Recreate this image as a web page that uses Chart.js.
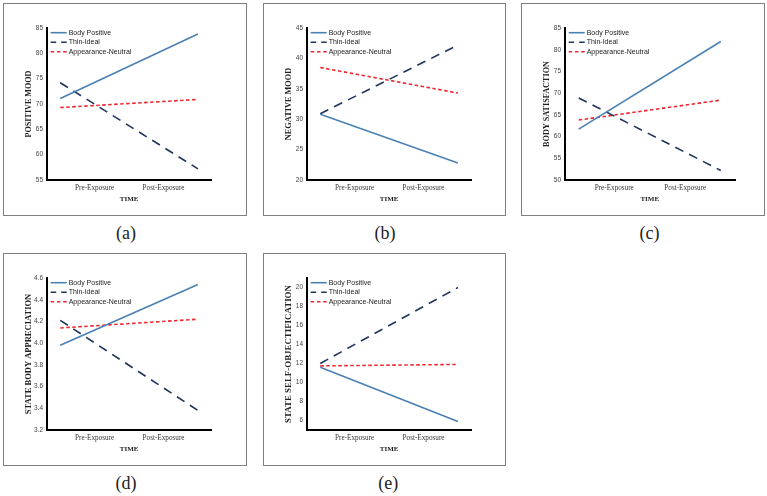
<!DOCTYPE html>
<html>
<head>
<meta charset="utf-8">
<script src="https://cdn.jsdelivr.net/npm/chart.js"></script>
<style>
  body { margin: 0; background: #fff; }
  #page { position: relative; width: 767px; height: 496px; overflow: hidden; }
  .panel { position: absolute; border: 1px solid #808080; height: 211px; }
  .panel canvas { display: block; }
  .caption { position: absolute; width: 40px; text-align: center; font-family: "Liberation Serif", "Times New Roman", serif; font-size: 18px; line-height: 20px; color: #222; }
</style>
</head>
<body>
<div id="page"></div>
<script>
const timeLabels = ['Pre-Exposure', 'Post-Exposure'];
const groupNames = ['Body Positive', 'Thin-Ideal', 'Appearance-Neutral'];

// (a) positive mood
const positiveMoodBodyPos = [71.1, 83.8];
const positiveMoodThin = [74.2, 57.2];
const positiveMoodNeutral = [69.3, 70.9];
const positiveMoodTicks = ['55', '60', '65', '70', '75', '80', '85'];

// (b) negative mood
const negativeMoodBodyPos = [30.8, 22.8];
const negativeMoodThin = [30.9, 42.2];
const negativeMoodNeutral = [38.5, 34.3];
const negativeMoodTicks = ['20', '25', '30', '35', '40', '45'];

// (c) body satisfaction
const bodySatBodyPos = [61.7, 81.9];
const bodySatThin = [68.9, 52.2];
const bodySatNeutral = [63.8, 68.4];
const bodySatTicks = ['50', '55', '60', '65', '70', '75', '80', '85'];

// (d) state body appreciation
const appreciationBodyPos = [3.98, 4.54];
const appreciationThin = [4.21, 3.38];
const appreciationNeutral = [4.14, 4.22];
const appreciationTicks = ['3.2', '3.4', '3.6', '3.8', '4.0', '4.2', '4.4', '4.6'];

// (e) state self-objectification
const objectificationBodyPos = [11.6, 5.9];
const objectificationThin = [12.0, 20.0];
const objectificationNeutral = [11.75, 11.9];
const objectificationTicks = ['6', '8', '10', '12', '14', '16', '18', '20'];
const objectificationRange = [5, 21];

const lineStyles = [
  { color: '#4a80b4', dash: [], legendDash: [] },
  { color: '#1f355c', dash: [9, 6.5], legendDash: [5.5, 5] },
  { color: '#ee2630', dash: [3.5, 2.5], legendDash: [3.5, 2.75] }
];

const serif = '"Liberation Serif", "Times New Roman", serif';
const sans = '"Liberation Sans", Arial, sans-serif';

// legend drawn inside the plot, top-left
const insideLegend = {
  id: 'insideLegend',
  afterDatasetsDraw(chart) {
    const { ctx, chartArea } = chart;
    ctx.save();
    ctx.font = '7px ' + sans;
    ctx.textBaseline = 'middle';
    chart.data.datasets.forEach((ds, i) => {
      const y = chartArea.top + 4.7 + i * 9.5;
      const x0 = chartArea.left + 4.2;
      ctx.strokeStyle = ds.borderColor;
      ctx.lineWidth = ds.borderWidth;
      ctx.setLineDash(ds.legendDash);
      ctx.beginPath();
      ctx.moveTo(x0, y);
      ctx.lineTo(x0 + 16, y);
      ctx.stroke();
      ctx.setLineDash([]);
      ctx.fillStyle = '#222';
      ctx.fillText(ds.label, x0 + 18, y);
    });
    ctx.restore();
  }
};

const panels = [
  { title: 'POSITIVE MOOD', series: [positiveMoodBodyPos, positiveMoodThin, positiveMoodNeutral], ticks: positiveMoodTicks,
    left: 3, top: 3, width: 244, padRight: 34.3, titleSize: 8.1, caption: '(a)', capX: 126, capY: 232.5 },
  { title: 'NEGATIVE MOOD', series: [negativeMoodBodyPos, negativeMoodThin, negativeMoodNeutral], ticks: negativeMoodTicks,
    left: 263, top: 3, width: 243, padRight: 33.3, titleSize: 8.3, caption: '(b)', capX: 385, capY: 232.5 },
  { title: 'BODY SATISFACTION', series: [bodySatBodyPos, bodySatThin, bodySatNeutral], ticks: bodySatTicks,
    left: 521, top: 3, width: 244, padRight: 29, titleSize: 8.2, caption: '(c)', capX: 649.5, capY: 233 },
  { title: 'STATE BODY APPRECIATION', series: [appreciationBodyPos, appreciationThin, appreciationNeutral], ticks: appreciationTicks,
    left: 3, top: 253, width: 244, padRight: 34.3, titleSize: 8.5, caption: '(d)', capX: 126, capY: 483.3 },
  { title: 'STATE SELF-OBJECTIFICATION', series: [objectificationBodyPos, objectificationThin, objectificationNeutral], ticks: objectificationTicks,
    range: objectificationRange, left: 263, top: 253, width: 243, padRight: 33.3, titleSize: 8.9, caption: '(e)', capX: 388.3, capY: 483.3 }
];

const page = document.getElementById('page');

panels.forEach(p => {
  const box = document.createElement('div');
  box.className = 'panel';
  box.style.left = p.left + 'px';
  box.style.top = p.top + 'px';
  box.style.width = (p.width - 2) + 'px';
  const canvas = document.createElement('canvas');
  canvas.width = p.width - 2;
  canvas.height = 211;
  box.appendChild(canvas);
  page.appendChild(box);

  const cap = document.createElement('div');
  cap.className = 'caption';
  cap.textContent = p.caption;
  cap.style.left = (p.capX - 20) + 'px';
  cap.style.top = (p.capY - 10) + 'px';
  page.appendChild(cap);

  const tickValues = p.ticks.map(Number);
  const range = p.range || [tickValues[0], tickValues[tickValues.length - 1]];

  new Chart(canvas, {
    type: 'line',
    data: {
      datasets: p.series.map((vals, i) => ({
        label: groupNames[i],
        data: vals.map((v, j) => ({ x: j, y: v })),
        borderColor: lineStyles[i].color,
        borderDash: lineStyles[i].dash,
        legendDash: lineStyles[i].legendDash,
        borderWidth: 1.6,
        pointRadius: 0,
        tension: 0,
        fill: false
      }))
    },
    options: {
      responsive: false,
      animation: false,
      layout: { padding: { top: 24, right: p.padRight, bottom: 0, left: 0 } },
      plugins: { legend: { display: false }, tooltip: { enabled: false } },
      scales: {
        x: {
          type: 'linear', min: -0.1, max: 1.1,
          grid: { display: false, drawTicks: false },
          border: { display: true, color: '#000', width: 2 },
          afterBuildTicks: s => { s.ticks = [{ value: 0.25 }, { value: 0.75 }]; },
          afterFit: s => { s.height = 35; },
          ticks: {
            padding: 3.7, maxRotation: 0, autoSkip: false, color: '#333',
            font: { family: serif, size: 7.2 },
            callback: (v, i) => timeLabels[i]
          },
          title: {
            display: true, text: 'TIME', color: '#222',
            font: { family: serif, size: 7, weight: 'bold' },
            padding: { top: 0, bottom: 11.8 }
          }
        },
        y: {
          min: range[0], max: range[1],
          grid: { display: false, drawTicks: false },
          border: { display: true, color: '#000', width: 2 },
          afterBuildTicks: s => { s.ticks = tickValues.map(v => ({ value: v })); },
          afterFit: s => { s.width = 42.5; },
          ticks: {
            padding: 3.5, color: '#444', autoSkip: false,
            font: { family: sans, size: 6.5 },
            callback: (v, i) => p.ticks[i]
          },
          title: {
            display: true, text: p.title, color: '#222',
            font: { family: serif, size: p.titleSize, weight: 'bold' },
            padding: { top: 24.5 - p.titleSize * 0.6, bottom: 0 }
          }
        }
      }
    },
    plugins: [insideLegend]
  });
});
</script>
</body>
</html>
